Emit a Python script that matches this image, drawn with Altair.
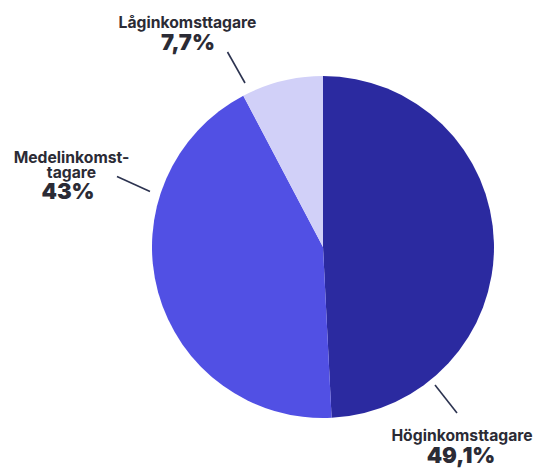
import altair as alt
import pandas as pd

categories = ["Höginkomsttagare", "Medelinkomsttagare", "Låginkomsttagare"]
shares = [49.1, 43.0, 7.7]
label_names = ["Höginkomsttagare", "Medelinkomst-\ntagare", "Låginkomsttagare"]
colors = ["#2b2aa0", "#5150e4", "#d1d0f8"]

def fmt(v):
    s = f"{v:.1f}".replace(".", ",")
    return (s[:-2] if s.endswith(",0") else s) + "%"

pie_df = pd.DataFrame({"cat": categories, "share": shares, "order": [0, 1, 2]})

# annotation layout (pixel positions in view; page = view + 8)
lab_x = [454, 63.5, 179.5]
lab_y = [432.5, 154.5, 19.5]
pct_x = [453, 60, 180]
pct_y = [455, 191, 42]
line_x1 = [427, 109, 219.5]
line_y1 = [377, 168.5, 44]
line_x2 = [449, 142, 237]
line_y2 = [405, 183.5, 75]

lab_df = pd.DataFrame({
    "cat": categories,
    "name": label_names,
    "pct": [fmt(v) for v in shares],
    "lx": lab_x, "ly": lab_y, "px": pct_x, "py": pct_y,
    "x1": line_x1, "y1": line_y1, "x2": line_x2, "y2": line_y2,
})

cx, cy, R = 315, 239, 171

pie = alt.Chart(pie_df).mark_arc(outerRadius=R).encode(
    theta=alt.Theta("share:Q", stack=True),
    order=alt.Order("order:Q"),
    color=alt.Color("cat:N", scale=alt.Scale(domain=categories, range=colors), legend=None),
    x=alt.value(cx), y=alt.value(cy),
)

base = alt.Chart(lab_df)

lines = base.mark_rule(color="#2c3350", strokeWidth=1.6).encode(
    x=alt.X("x1:Q", scale=None, axis=None), y=alt.Y("y1:Q", scale=None, axis=None),
    x2="x2:Q", y2="y2:Q",
)

names = base.mark_text(font="Inter", fontWeight=700, fontSize=15.7, color="#2b2b35",
                       align="center", baseline="alphabetic", lineHeight=15.5).encode(
    x=alt.X("lx:Q", scale=None, axis=None), y=alt.Y("ly:Q", scale=None, axis=None),
    text=alt.Text("name:N"),
).transform_calculate(name="split(datum.name, '\\n')")

pcts = base.mark_text(font="Inter", fontWeight=900, fontSize=22, color="#2b2b35",
                      align="center", baseline="alphabetic").encode(
    x=alt.X("px:Q", scale=None, axis=None), y=alt.Y("py:Q", scale=None, axis=None),
    text="pct:N",
)

chart = alt.layer(pie, lines, names, pcts).properties(
    width=525, height=460, padding=0, autosize="none", background="white"
).configure_view(strokeWidth=0, stroke=None).configure_axis(
    domain=False, grid=False, ticks=False, labels=False
)

chart.save("out.html", embed_options={"renderer": "svg", "actions": False})
